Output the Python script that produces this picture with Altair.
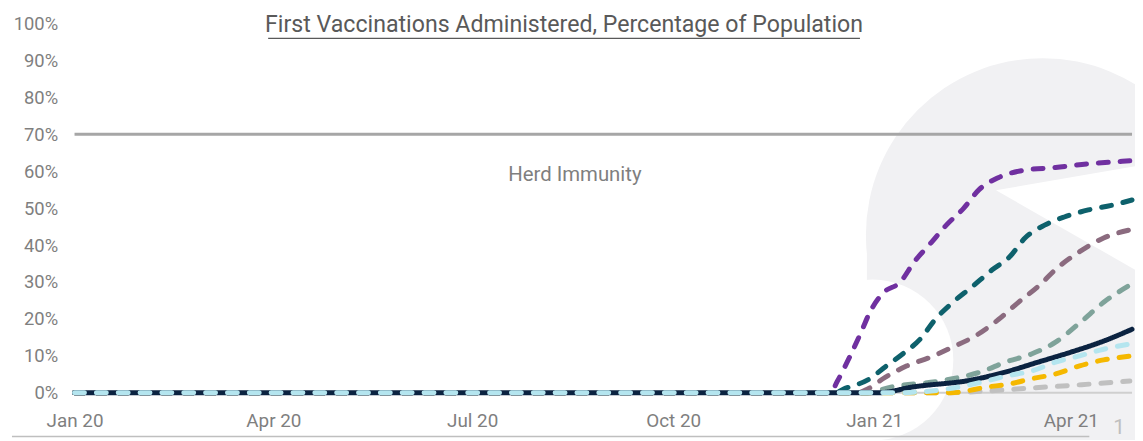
import altair as alt
import pandas as pd

# ---------------- data ----------------
series_names = ["Grey", "Yellow", "Purple", "Teal", "Mauve", "Sage", "Navy", "Light Blue"]
series_colors = ["#C0C0C0", "#F5B800", "#7030A0", "#0E616C", "#8B6B7F", "#7FA39A", "#0B2341", "#B4E5EF"]

grey_dates = ["2020-01-01", "2021-01-31", "2021-02-22", "2021-03-14", "2021-04-06", "2021-04-28"]
grey_vals = [0, 0, 0.5, 1.3, 2.2, 3.2]

yellow_dates = ["2020-01-01", "2021-02-05", "2021-02-22", "2021-03-04", "2021-03-14", "2021-03-25",
                "2021-04-05", "2021-04-16", "2021-04-28"]
yellow_vals = [0, 0, 1.6, 2.4, 3.8, 5.1, 7.3, 8.9, 9.9]

purple_dates = ["2020-01-01", "2020-12-12", "2020-12-15", "2020-12-21", "2020-12-26", "2020-12-30",
                "2021-01-05", "2021-01-13", "2021-01-19", "2021-01-27", "2021-02-03", "2021-02-11",
                "2021-02-18", "2021-02-27", "2021-03-10", "2021-03-25", "2021-04-09", "2021-04-23",
                "2021-04-28"]
purple_vals = [0, 0, 3, 10, 16.4, 21.8, 27, 30, 35.2, 40.6, 45.4, 50, 55, 58.3, 60.2, 61, 62, 62.6, 62.8]

teal_dates = ["2020-01-01", "2020-12-14", "2020-12-18", "2020-12-30", "2021-01-06", "2021-01-14",
              "2021-01-22", "2021-01-29", "2021-02-06", "2021-02-15", "2021-02-24", "2021-03-04",
              "2021-03-11", "2021-03-20", "2021-03-29", "2021-04-09", "2021-04-20", "2021-04-29"]
teal_vals = [0, 0, 1, 3.8, 7, 10.5, 14.5, 19.9, 24.5, 28.8, 33.3, 36.8, 41.9, 45.4, 47.6, 49.5, 50.8, 52.2]

mauve_dates = ["2020-01-01", "2020-12-24", "2020-12-29", "2021-01-05", "2021-01-16", "2021-01-27",
               "2021-02-06", "2021-02-16", "2021-02-27", "2021-03-08", "2021-03-17", "2021-03-26",
               "2021-04-05", "2021-04-16", "2021-04-28"]
mauve_vals = [0, 0, 1, 3.8, 7.3, 9.7, 12.4, 15.3, 19.9, 24.5, 28.8, 33.9, 38.2, 41.9, 44.1]

sage_dates = ["2020-01-01", "2020-12-28", "2021-01-09", "2021-01-31", "2021-02-20", "2021-03-02",
              "2021-03-14", "2021-03-25", "2021-04-06", "2021-04-16", "2021-04-29"]
sage_vals = [0, 0, 1.6, 3.2, 5.9, 8.3, 10.5, 13.7, 19.4, 24.5, 29.5]

navy_dates = ["2020-01-01", "2021-01-03", "2021-01-19", "2021-02-15", "2021-03-02", "2021-03-17",
              "2021-04-01", "2021-04-16", "2021-04-29"]
navy_vals = [0, 0, 1.6, 3.5, 5.6, 8.3, 11, 14, 17.2]

lightblue_dates = ["2020-01-01", "2021-01-12", "2021-02-03", "2021-02-20", "2021-03-03", "2021-03-14",
                   "2021-03-25", "2021-04-05", "2021-04-16", "2021-04-28"]
lightblue_vals = [0, 0, 1, 3, 4.6, 5.9, 8.3, 10, 11.8, 13.2]

herd_level = 70
herd_label = "Herd Immunity"
herd_label_date = "2020-08-17"
herd_label_val = 59

title_text = "First Vaccinations Administered, Percentage of Population"
page_number = "1"

y_ticks = [0, 10, 20, 30, 40, 50, 60, 70, 80, 90, 100]

# ---------------- table ----------------
all_series = [
    (grey_dates, grey_vals), (yellow_dates, yellow_vals), (purple_dates, purple_vals),
    (teal_dates, teal_vals), (mauve_dates, mauve_vals), (sage_dates, sage_vals),
    (navy_dates, navy_vals), (lightblue_dates, lightblue_vals),
]
rows = []
for order, (name, (ds, vs)) in enumerate(zip(series_names, all_series)):
    for d, v in zip(ds, vs):
        rows.append({"series": name, "date": d, "value": v, "order": order})
df = pd.DataFrame(rows)

dash_range = [[1, 0] if n == "Navy" else [10, 12] for n in series_names]

x_scale = alt.Scale(domain=[alt.DateTime(year=2020, month=1, date=1),
                            alt.DateTime(year=2021, month=4, date=29)])
y_scale = alt.Scale(domain=[0, 100])

tick_values = [alt.DateTime(year=2020, month=1, date=1), alt.DateTime(year=2020, month=4, date=1),
               alt.DateTime(year=2020, month=7, date=1), alt.DateTime(year=2020, month=10, date=1),
               alt.DateTime(year=2021, month=1, date=1), alt.DateTime(year=2021, month=4, date=1)]

FONT = "Roboto"
LABEL_COLOR = "#7F7F7F"
WM = "#F1F1F3"
TWO_PI = 6.2832

x_axis = alt.Axis(values=tick_values, format="%b %y", ticks=False, grid=False, domain=False,
                  zindex=1, labelFontSize=19, labelColor=LABEL_COLOR, labelFont=FONT,
                  labelPadding=19, labelFlush=False, labelOverlap=False, title=None)
y_axis = alt.Axis(values=y_ticks, labelExpr="datum.value + '%'", ticks=False, grid=False,
                  domain=False, zindex=1, labelFontSize=18.5, labelColor=LABEL_COLOR,
                  labelFont=FONT, labelPadding=17, labelOverlap=False, title=None)

one = alt.Data(values=[{"k": 1}])

# decorative background watermark (light grey swoosh), built from simple shapes
wm_bowl = alt.Chart(one).mark_arc(color=WM, radius=178, theta=0, theta2=TWO_PI).encode(
    x=alt.value(975), y=alt.value(213))
wm_body = alt.Chart(one).mark_rect(color=WM).encode(
    x=alt.value(798), x2=alt.value(1090), y=alt.value(213), y2=alt.value(440))
wm_pocket = alt.Chart(one).mark_arc(color="white", radius=81, theta=0, theta2=TWO_PI).encode(
    x=alt.value(804), y=alt.value(339))
wm_tongue = alt.Chart(one).mark_arc(color="white", radius=240, theta=1.40, theta2=2.09).encode(
    x=alt.value(928), y=alt.value(168))

# x baseline (axis line) drawn below the data lines
baseline = alt.Chart(alt.Data(values=[{"v": 0}])).mark_rule(color="#CFCFCF", strokeWidth=2).encode(
    y=alt.Y("v:Q", scale=y_scale, axis=y_axis))

herd_rule = alt.Chart(alt.Data(values=[{"v": herd_level}])).mark_rule(
    color="#A6A6A6", strokeWidth=3).encode(y=alt.Y("v:Q", scale=y_scale, axis=y_axis))

herd_text = alt.Chart(alt.Data(values=[{"d": herd_label_date, "v": herd_label_val, "t": herd_label}])).mark_text(
    font=FONT, fontSize=20.5, color=LABEL_COLOR, align="center", baseline="middle").encode(
    x=alt.X("d:T", scale=x_scale, axis=x_axis), y=alt.Y("v:Q", scale=y_scale, axis=y_axis), text="t:N")

lines = alt.Chart(df).mark_line(strokeWidth=5, strokeCap="round", interpolate="monotone").encode(
    x=alt.X("date:T", scale=x_scale, axis=x_axis),
    y=alt.Y("value:Q", scale=y_scale, axis=y_axis),
    color=alt.Color("series:N", scale=alt.Scale(domain=series_names, range=series_colors), legend=None),
    strokeDash=alt.StrokeDash("series:N", scale=alt.Scale(domain=series_names, range=dash_range),
                              legend=None),
    order=alt.Order("order:Q"),
)

title = alt.Chart(one).mark_text(font=FONT, fontSize=23.3, color="#595959", align="center",
                                 baseline="middle").encode(
    x=alt.value(493), y=alt.value(2), text=alt.value(title_text))

underline = alt.Chart(one).mark_rule(color="#595959", strokeWidth=1.2).encode(
    x=alt.value(195), x2=alt.value(791), y=alt.value(15))

footer = alt.Chart(one).mark_rule(color="#BFBFBF", strokeWidth=1.5).encode(
    x=alt.value(-63), x2=alt.value(1022), y=alt.value(416))

page = alt.Chart(one).mark_text(font=FONT, fontSize=21, color="#BFBFBF", align="center",
                                baseline="middle").encode(
    x=alt.value(1052), y=alt.value(407), text=alt.value(page_number))

chart = alt.layer(wm_bowl, wm_body, wm_pocket, wm_tongue, baseline, herd_rule, herd_text, lines,
                  title, underline, footer, page).properties(
    width=1065, height=372,
    autosize=alt.AutoSizeParams(type="none"),
    padding={"left": 67, "top": 14, "right": 3, "bottom": 46},
    background="white",
).configure_view(stroke=None)

chart.save("out.html", embed_options={"renderer": "svg", "actions": False})
